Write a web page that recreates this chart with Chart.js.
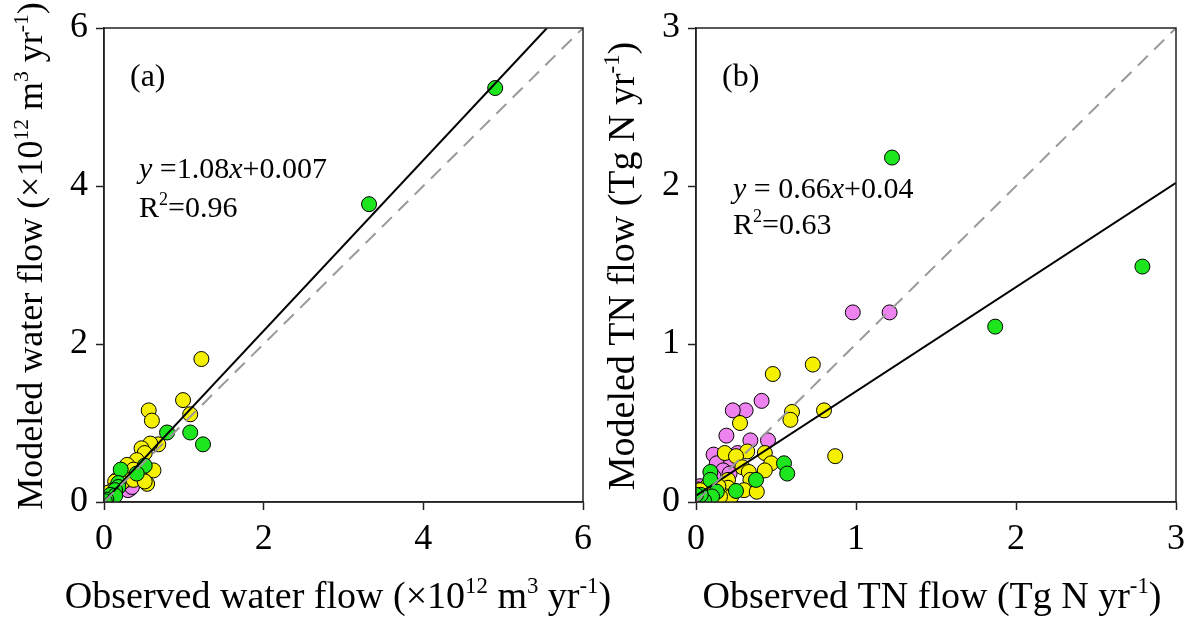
<!DOCTYPE html>
<html>
<head>
<meta charset="utf-8">
<script src="https://cdn.jsdelivr.net/npm/chart.js@4.4.0/dist/chart.umd.min.js"></script>
<style>
  body { margin: 0; background: #fff; }
  #wrap { position: relative; width: 1185px; height: 621px; }
  .panel { position: absolute; top: 0; height: 621px; }
</style>
</head>
<body>
<div id="wrap">
  <div class="panel" style="left:0;width:640px"><canvas id="water-chart" width="640" height="621"></canvas></div>
  <div class="panel" style="left:592px;width:593px"><canvas id="tn-chart" width="593" height="621"></canvas></div>
</div>
<script>
// ****DATA****//
// (a) water flow, x = observed, y = modeled
let waterGreen = [
  [4.90, 5.24], [3.32, 3.77], [0.79, 0.88], [1.08, 0.88], [1.24, 0.73],
  [0.51, 0.46], [0.21, 0.41], [0.41, 0.36], [0.18, 0.24], [0.18, 0.19],
  [0.14, 0.15], [0.08, 0.09], [0.14, 0.08], [0.03, 0.03], [0.01, 0.01]
];
let waterYellow = [
  [1.22, 1.81], [0.99, 1.29], [0.56, 1.16], [0.60, 1.03], [1.08, 1.11],
  [0.68, 0.73], [0.58, 0.74], [0.47, 0.68], [0.51, 0.62], [0.41, 0.53],
  [0.29, 0.47], [0.37, 0.41], [0.62, 0.40], [0.45, 0.32], [0.54, 0.23],
  [0.16, 0.28], [0.28, 0.28], [0.22, 0.24], [0.37, 0.28], [0.51, 0.26],
  [0.14, 0.26], [0.11, 0.15], [0.06, 0.12]
];
let waterViolet = [[0.33, 0.17], [0.35, 0.24], [0.30, 0.15], [0.35, 0.19]];
let waterFit = [1.08, 0.007]; // slope, intercept
let waterTicks = [0, 2, 4, 6];

// (b) TN flow
let tnGreen = [
  [1.225, 2.18], [2.79, 1.49], [1.87, 1.11], [0.55, 0.245], [0.57, 0.18],
  [0.375, 0.14], [0.09, 0.19], [0.09, 0.14], [0.25, 0.07], [0.13, 0.065],
  [0.10, 0.035], [0.05, 0.01], [0.0, 0.0], [0.03, 0.045], [0.0, 0.045]
];
let tnYellow = [
  [0.73, 0.87], [0.48, 0.81], [0.60, 0.57], [0.59, 0.52], [0.80, 0.58],
  [0.275, 0.50], [0.87, 0.29], [0.43, 0.31], [0.32, 0.32], [0.18, 0.31],
  [0.25, 0.29], [0.47, 0.245], [0.43, 0.20], [0.29, 0.22], [0.33, 0.19],
  [0.34, 0.14], [0.20, 0.14], [0.20, 0.09], [0.30, 0.075], [0.38, 0.065],
  [0.19, 0.035], [0.22, 0.035], [0.15, 0.035], [0.07, 0.10], [0.025, 0.075],
  [0.14, 0.10]
];
let tnViolet = [
  [0.98, 1.20], [1.21, 1.20], [0.41, 0.64], [0.31, 0.58], [0.23, 0.58],
  [0.19, 0.42], [0.34, 0.39], [0.45, 0.39], [0.11, 0.30], [0.26, 0.31],
  [0.13, 0.245], [0.22, 0.25], [0.17, 0.20], [0.21, 0.18], [0.11, 0.16],
  [0.025, 0.10], [0.01, 0.08]
];
let tnFit = [0.66, 0.04];
let tnTicks = [0, 1, 2, 3];

let serif = "Liberation Serif";

// draw text pieces with superscripts / italics
function drawRich(ctx, parts, x, y, size, align) {
  function fontOf(p) {
    let s = p.sup ? size * 0.6 : size;
    return (p.it ? "italic " : "") + s + "px '" + serif + "'";
  }
  let total = 0;
  parts.forEach(function (p) {
    ctx.font = fontOf(p);
    total += ctx.measureText(p.t).width;
  });
  let cx = align === "center" ? x - total / 2 : x;
  ctx.textAlign = "left";
  ctx.textBaseline = "alphabetic";
  ctx.fillStyle = "#000";
  parts.forEach(function (p) {
    ctx.font = fontOf(p);
    ctx.fillText(p.t, cx, p.sup ? y - size * 0.4 : y);
    cx += ctx.measureText(p.t).width;
  });
}

function points(arr) {
  return arr.map(function (p) { return { x: p[0], y: p[1] }; });
}

function dotSet(arr, color, order) {
  return {
    type: "scatter",
    data: points(arr),
    backgroundColor: color,
    borderColor: "#000",
    borderWidth: 1,
    pointRadius: 7.5,
    order: order,
  };
}

function lineSet(data, color, dash, width) {
  return {
    type: "line",
    data: data,
    borderColor: color,
    borderWidth: width,
    borderDash: dash,
    pointRadius: 0,
    fill: false,
    order: 0,
  };
}

function axis(ticks, width, height) {
  return {
    type: "linear",
    min: ticks[0],
    max: ticks[ticks.length - 1],
    afterBuildTicks: function (s) {
      s.ticks = ticks.map(function (v) { return { value: v }; });
    },
    afterFit: function (s) {
      if (width) s.width = width;
      if (height) s.height = height;
      s.paddingLeft = 0;
      s.paddingRight = 0;
      s.paddingTop = 0;
      s.paddingBottom = 0;
    },
    ticks: {
      color: "#000",
      font: { family: serif, size: 36 },
      padding: 8,
    },
    grid: {
      drawOnChartArea: false,
      tickLength: 8,
      tickColor: "#222",
      tickWidth: 1.5,
    },
    border: { color: "#222", width: 1.5 },
  };
}

function makeChart(id, green, yellow, violet, fit, ticks, padRight, deco) {
  let max = ticks[ticks.length - 1];
  let fitEndX = Math.min(max, (max - fit[1]) / fit[0]);
  let ctx = document.getElementById(id).getContext("2d");
  return new Chart(ctx, {
    type: "scatter",
    data: {
      datasets: [
        lineSet([{ x: 0, y: 0 }, { x: max, y: max }], "#999", [14, 9], 2),
        lineSet([{ x: 0, y: fit[1] }, { x: fitEndX, y: fit[0] * fitEndX + fit[1] }], "#000", [], 2),
        dotSet(green, "#1ee61e", 1),
        dotSet(yellow, "#f5f000", 2),
        dotSet(violet, "#ee82ee", 3),
      ],
    },
    options: {
      responsive: false,
      animation: false,
      layout: { padding: { top: 28, right: padRight, left: 0, bottom: 0 } },
      plugins: { legend: { display: false }, tooltip: { enabled: false } },
      scales: {
        x: axis(ticks, 0, 119),
        y: axis(ticks, 104, 0),
      },
    },
    plugins: [
      {
        id: "frame",
        afterDraw: function (chart) {
          let a = chart.chartArea;
          let c = chart.ctx;
          c.save();
          c.strokeStyle = "#222";
          c.lineWidth = 1.5;
          c.strokeRect(a.left, a.top, a.right - a.left, a.bottom - a.top);
          deco(c, a);
          c.restore();
        },
      },
    ],
  });
}

makeChart("water-chart", waterGreen, waterYellow, waterViolet, waterFit, waterTicks, 57, function (c, a) {
  drawRich(c, [{ t: "(a)" }], a.left + 26, 86, 32, "left");
  drawRich(c, [{ t: "y", it: true }, { t: " =1.08" }, { t: "x", it: true }, { t: "+0.007" }], a.left + 35, 178, 30, "left");
  drawRich(c, [{ t: "R" }, { t: "2", sup: true }, { t: "=0.96" }], a.left + 35, 217, 30, "left");
  drawRich(c, [{ t: "Observed water flow (×10" }, { t: "12", sup: true }, { t: " m" }, { t: "3", sup: true }, { t: " yr" }, { t: "-1", sup: true }, { t: ")" }], 338, 608, 38, "center");
  c.save();
  c.translate(42, 256);
  c.rotate(-Math.PI / 2);
  drawRich(c, [{ t: "Modeled water flow (×10" }, { t: "12", sup: true }, { t: " m" }, { t: "3", sup: true }, { t: " yr" }, { t: "-1", sup: true }, { t: ")" }], 0, 0, 36, "center");
  c.restore();
});

makeChart("tn-chart", tnGreen, tnYellow, tnViolet, tnFit, tnTicks, 9, function (c, a) {
  drawRich(c, [{ t: "(b)" }], a.left + 26, 86, 32, "left");
  drawRich(c, [{ t: "y", it: true }, { t: " = 0.66" }, { t: "x", it: true }, { t: "+0.04" }], a.left + 37, 198, 30, "left");
  drawRich(c, [{ t: "R" }, { t: "2", sup: true }, { t: "=0.63" }], a.left + 37, 234, 30, "left");
  drawRich(c, [{ t: "Observed TN flow (Tg N yr" }, { t: "-1", sup: true }, { t: ")" }], 340, 608, 38, "center");
  c.save();
  c.translate(42, 266);
  c.rotate(-Math.PI / 2);
  drawRich(c, [{ t: "Modeled TN flow (Tg N yr" }, { t: "-1", sup: true }, { t: ")" }], 0, 0, 38, "center");
  c.restore();
});
</script>
</body>
</html>
